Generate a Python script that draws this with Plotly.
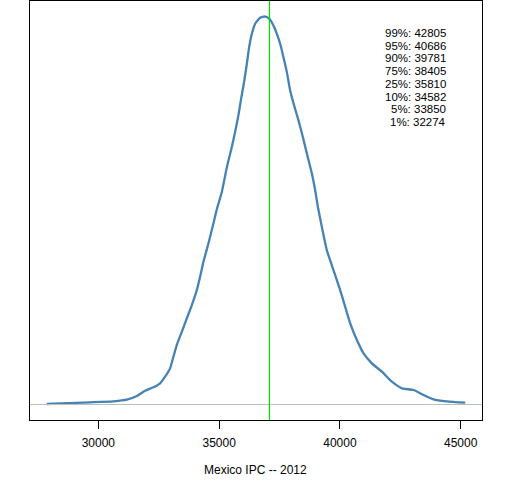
import plotly.graph_objects as go

# Density estimate of Mexico IPC (x values, density in units of 1e-6)
ipc_values = [27863, 28484, 29656, 30621, 31176, 31591, 31934, 32278, 32556, 32763,
              32970, 33107, 33247, 33454, 33662, 33869, 34076, 34212, 34349, 34556,
              34763, 34904, 35111, 35318, 35525, 35662, 35799, 35911, 36035, 36147,
              36242, 36354, 36491, 36698, 36905, 37083, 37249, 37389, 37526, 37663,
              37803, 37940, 38106, 38284, 38466, 38632, 38839, 38976, 39088, 39253,
              39460, 39734, 40011, 40218, 40425, 40703, 40976, 41324, 41738, 42153,
              42567, 43047, 43462, 43876, 44431, 45189]
density_e6 = [0.26, 0.62, 1.13, 1.65, 2.47, 4.38, 7.11, 8.87, 10.93, 14.33,
              18.66, 24.64, 30.67, 37.53, 44.44, 51.29, 59.02, 65.88, 73.61, 83.10,
              93.41, 100.78, 109.70, 122.34, 132.90, 140.80, 149.36, 157.85, 166.58, 175.89,
              184.45, 191.35, 196.51, 199.60, 200.27, 199.09, 195.63, 191.35, 186.20, 179.29,
              171.56, 162.12, 154.27, 146.66, 138.05, 129.49, 119.18, 110.57, 101.97, 91.66,
              79.64, 69.33, 59.02, 50.42, 41.86, 33.25, 26.39, 21.24, 16.91, 11.75,
              8.35, 7.47, 4.90, 2.68, 1.65, 0.93]

current_value = 37084

quantile_labels = ["99%", "95%", "90%", "75%", "25%", "10%", "5%", "1%"]
quantile_values = [42805, 40686, 39781, 38405, 35810, 34582, 33850, 32274]

x_ticks = [30000, 35000, 40000, 45000]
x_title = "Mexico IPC -- 2012"

density = [d * 1e-6 for d in density_e6]
dmax = max(density)
xmin, xmax = min(ipc_values), max(ipc_values)
xpad = 0.04 * (xmax - xmin)

FONT = "Liberation Sans, Arial, sans-serif"

fig = go.Figure()
fig.add_trace(go.Scatter(x=ipc_values, y=density, mode="lines",
                         line=dict(color="#4682B4", width=2.3, shape="spline", smoothing=0.5),
                         hoverinfo="skip", showlegend=False))

fig.add_shape(type="line", xref="paper", yref="y", x0=0, x1=1, y0=0, y1=0,
              line=dict(color="#BEBEBE", width=1.2))
fig.add_shape(type="line", xref="x", yref="paper", x0=current_value, x1=current_value,
              y0=0, y1=1, line=dict(color="#00E000", width=1.2))

# quantile text, right aligned
for i, (lab, val) in enumerate(zip(quantile_labels, quantile_values)):
    fig.add_annotation(xref="paper", yref="paper", x=(448 - 30) / 452,
                       y=1 - (32.8 + i * 12.75 - 1) / 419,
                       text=f"{lab}: {val}", showarrow=False,
                       xanchor="right", yanchor="middle",
                       font=dict(family=FONT, size=11.5, color="black"))

fig.add_annotation(xref="paper", yref="paper", x=(255 - 30) / 452, y=-(470 - 420) / 419,
                   text=x_title, showarrow=False, xanchor="center", yanchor="middle",
                   font=dict(family=FONT, size=12, color="black"))

fig.update_layout(
    width=512, height=480,
    margin=dict(l=30, r=30, t=1, b=60),
    paper_bgcolor="white", plot_bgcolor="white",
    xaxis=dict(range=[xmin - xpad, xmax + xpad], tickvals=x_ticks, tickformat="d",
               ticks="outside", ticklen=8, tickcolor="black", tickwidth=1,
               ticklabelstandoff=4,
               showgrid=False, zeroline=False, showline=True, linecolor="black",
               linewidth=1, mirror=True,
               tickfont=dict(family=FONT, size=12, color="black")),
    yaxis=dict(range=[-0.04 * dmax, 1.04 * dmax], showticklabels=False, ticks="",
               showgrid=False, zeroline=False, showline=True, linecolor="black",
               linewidth=1, mirror=True),
)

fig.write_html("out.html", config={"displayModeBar": False},
               post_script="document.body.style.margin='0';document.body.style.padding='0';")
